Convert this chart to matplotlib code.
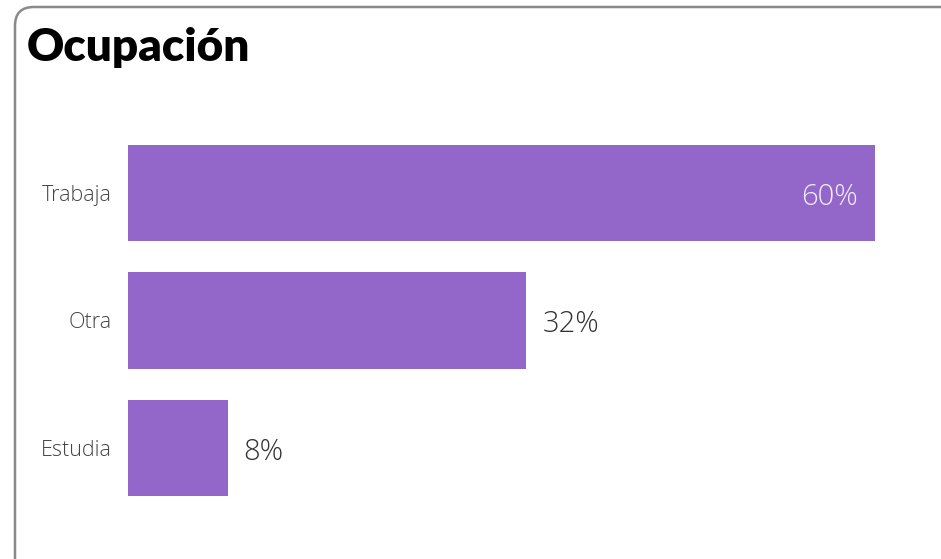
import matplotlib.pyplot as plt
from matplotlib.patches import FancyBboxPatch

# Datos
categorias = ['Trabaja', 'Otra', 'Estudia']
valores = [60, 32, 8]
etiquetas = ['60%', '32%', '8%']
color_barra = '#9366CA'
fuente = ['Open Sans', 'DejaVu Sans']

W, H = 941, 559
fig = plt.figure(figsize=(W / 100, H / 100), dpi=100)

# Marco redondeado (se sale por la derecha y abajo)
marco = FancyBboxPatch((15 / W, -40 / H), 960 / W, 592 / H,
                       boxstyle='round,pad=0,rounding_size=0.02',
                       transform=fig.transFigure, facecolor='none',
                       edgecolor='#8a8a8a', linewidth=1.8, mutation_aspect=W / H,
                       zorder=-5)
fig.patches.append(marco)

fig.text(27 / W, 1 - 48 / H, 'Ocupación', fontsize=33, fontweight='heavy',
         family=['Lato', 'DejaVu Sans'], va='center', ha='left', color='black')

# Ejes: x=0 en 128 px, x=60 en 875 px
ax = fig.add_axes([128 / W, 47 / H, (875 - 128) / W, (512 - 129) / H])
pos = list(range(len(categorias)))
ax.barh(pos, valores, height=0.753, color=color_barra)
ax.set_xlim(0, 60)
ax.set_ylim(2.5, -0.5)
ax.set_yticks(pos)
ax.set_yticklabels(categorias, fontsize=15.5, color='#444444',
                   family=fuente, fontweight='light')
ax.tick_params(axis='y', length=0, pad=12)
ax.set_xticks([])
for s in ax.spines.values():
    s.set_visible(False)
ax.patch.set_alpha(0)

for i, (v, t) in enumerate(zip(valores, etiquetas)):
    if v > 40:
        ax.annotate(t, (v, i), xytext=(-17, -4), textcoords='offset pixels',
                    ha='right', va='center', fontsize=21, color='#F3ECFA',
                    family=fuente, fontweight='light')
    else:
        ax.annotate(t, (v, i), xytext=(16, -4), textcoords='offset pixels',
                    ha='left', va='center', fontsize=21, color='#333333',
                    family=fuente, fontweight='light')

fig.savefig('out.png', dpi=100)
